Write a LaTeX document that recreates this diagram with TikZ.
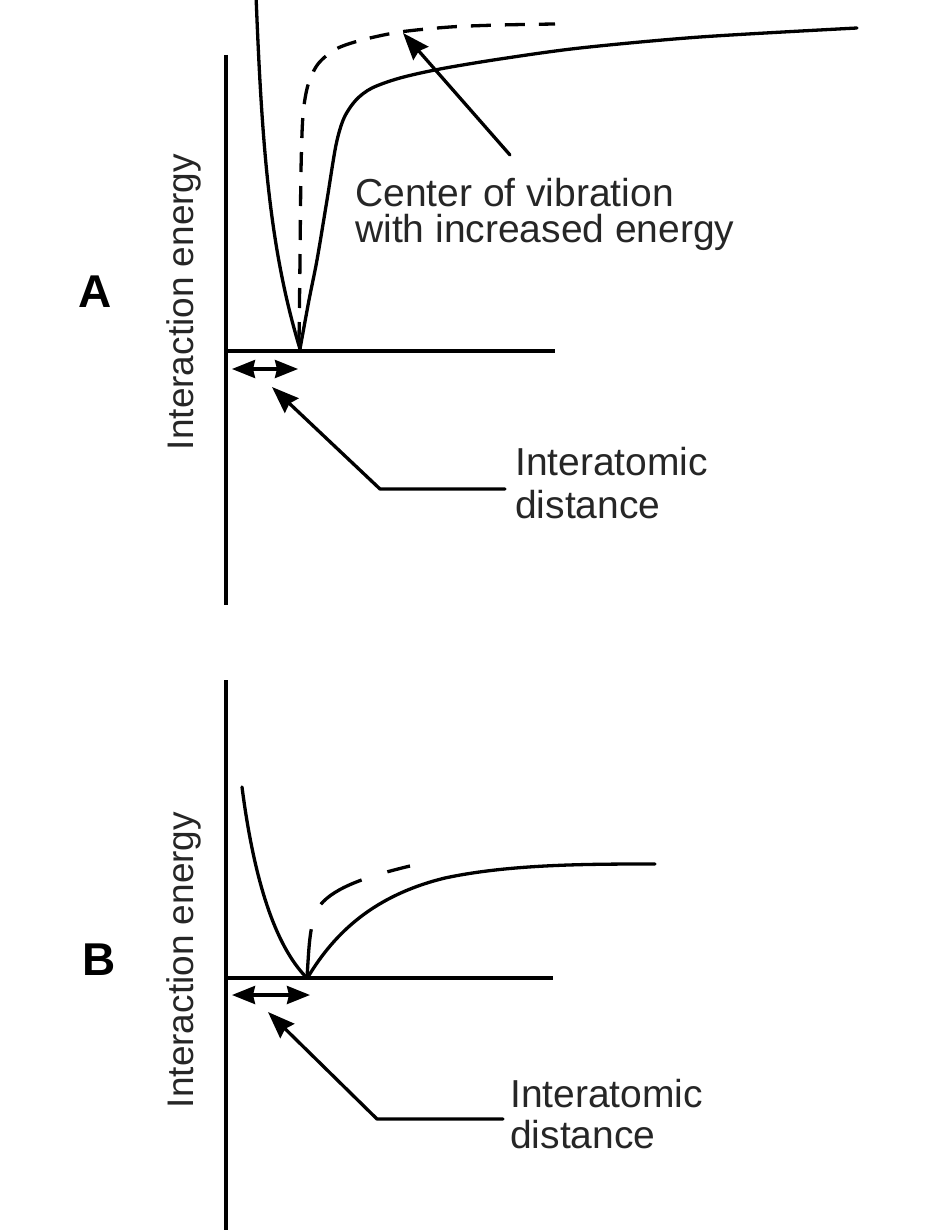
\documentclass[tikz,border=0pt]{standalone}
\usepackage{fontspec}
\setmainfont{Liberation Sans}
\usetikzlibrary{arrows.meta}
\begin{document}
\begin{tikzpicture}[x=1pt,y=-1pt,
  ln/.style={line width=3.3pt, line join=round, line cap=round},
  dsh/.style={line width=3.3pt, line cap=butt, dash pattern=on 20pt off 14pt},
  lbl/.style={font=\fontsize{39}{43}\selectfont, inner sep=0pt, align=left, anchor=base west, text=black!85},
  ylbl/.style={font=\fontsize{37}{40}\selectfont, inner sep=0pt, rotate=90, anchor=base, text=black!85},
  panel/.style={font=\fontsize{46}{50}\selectfont\bfseries, inner sep=0pt, anchor=base west},
  tipS/.style={-{Stealth[length=27pt,width=20pt,inset=3pt]}},
  dbl/.style={{Stealth[length=23pt,width=18pt,inset=2pt]}-{Stealth[length=23pt,width=18pt,inset=2pt]}}
]
\useasboundingbox (0,0) rectangle (924,1230);
% ---------------- Panel A ----------------
\coordinate (aYtop) at (226,55);
\coordinate (aYbot) at (226,605);
\coordinate (aO) at (226,351);
\coordinate (aXend) at (555,351);
\draw[ln, line cap=butt] (aYtop) -- (aYbot);
\draw[ln, line cap=butt] (aO) -- (aXend);
% solid curve
\draw[ln] (256,-5) .. controls (262,150) and (270,250) .. (300,349);
\draw[ln] plot[smooth, tension=0.5] coordinates {(300,349) (309,300) (317,260) (327,200) (336,145) (344,118) (356,100) (372,88) (400,78) (440,69) (500,59) (580,48) (700,37) (857,28)};
% dashed curve
\draw[dsh] plot[smooth, tension=0.5] coordinates {(299,342) (300,260) (301,170) (303,115) (308,85) (318,64) (336,49) (362,40) (400,32) (450,27) (500,25) (555,24)};
% labels
\node[panel] (aLetter) at (78,308) {A};
\node[ylbl] (aYlab) at (193,302) {Interaction energy};
\node[lbl, font=\fontsize{39}{36}\selectfont] (aCenter) at (355,243) {Center of vibration\\with increased energy};
\node[lbl] (aInter) at (515,518) {Interatomic\\distance};
% arrows
\coordinate (aCtail) at (510,155);
\coordinate (aCtip) at (403,33);
\draw[ln, tipS] (aCtail) -- (aCtip);
\coordinate (aDl) at (232,369);
\coordinate (aDr) at (298,369);
\draw[ln, dbl] (aDl) -- (aDr);
\coordinate (aLs) at (505,489);
\coordinate (aLk) at (380,489);
\coordinate (aLt) at (272,387);
\draw[ln, tipS] (aLs) -- (aLk) -- (aLt);
% ---------------- Panel B ----------------
\coordinate (bYtop) at (226,680);
\coordinate (bYbot) at (226,1232);
\coordinate (bO) at (226,978);
\coordinate (bXend) at (553,978);
\draw[ln, line cap=butt] (bYtop) -- (bYbot);
\draw[ln, line cap=butt] (bO) -- (bXend);
\draw[ln] (242,787) .. controls (254,880) and (275,945) .. (306,977);
\draw[ln] (308,977) .. controls (335,932) and (375,895) .. (445,878) .. controls (510,864) and (590,864) .. (655,864);
\draw[line width=3.3pt, line cap=butt, dash pattern=on 48pt off 27pt] (307,977) .. controls (309,950) and (309,925) .. (318,908) .. controls (330,890) and (360,878) .. (410,866);
\node[panel] (bLetter) at (82,975) {B};
\node[ylbl] (bYlab) at (193,960) {Interaction energy};
\node[lbl, font=\fontsize{39}{41}\selectfont] (bInter) at (510,1148) {Interatomic\\distance};
\coordinate (bDl) at (232,995);
\coordinate (bDr) at (310,995);
\draw[ln, dbl] (bDl) -- (bDr);
\coordinate (bLs) at (503,1119);
\coordinate (bLk) at (377,1119);
\coordinate (bLt) at (268,1012);
\draw[ln, tipS] (bLs) -- (bLk) -- (bLt);
\end{tikzpicture}
\end{document}
